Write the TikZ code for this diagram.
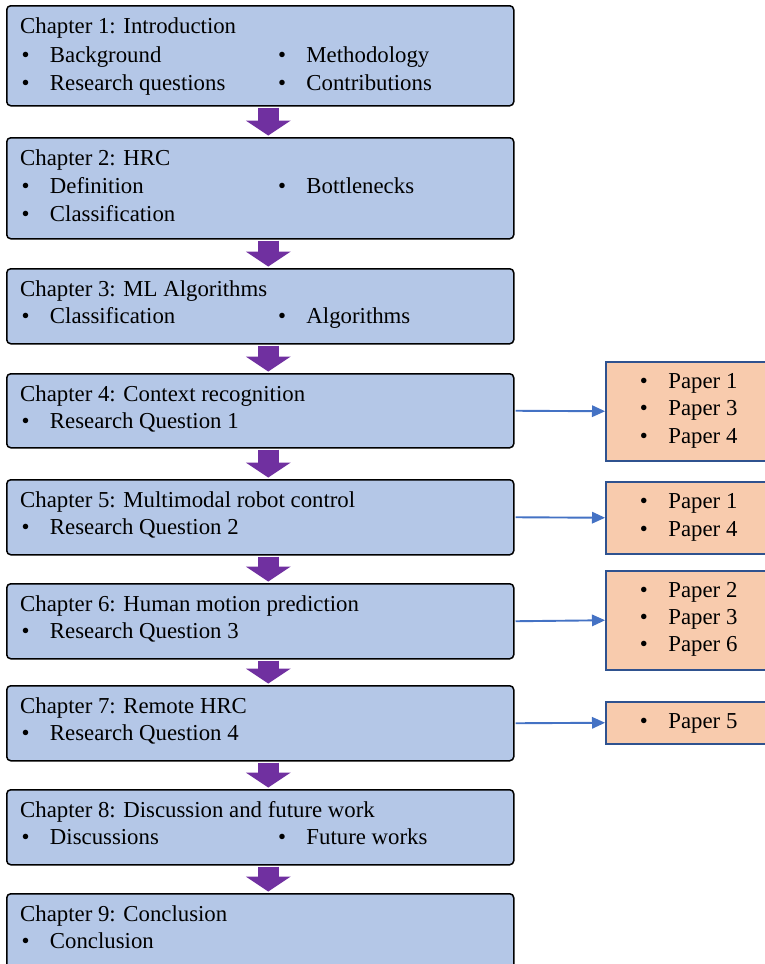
\documentclass[tikz,border=0pt]{standalone}
\usepackage{fontspec}
\setmainfont{Liberation Serif}
\usetikzlibrary{arrows.meta}

\definecolor{chapfill}{HTML}{B4C7E7}
\definecolor{paperfill}{HTML}{F8CBAD}
\definecolor{paperline}{HTML}{2F528F}
\definecolor{flowpurple}{HTML}{7030A0}
\definecolor{linkblue}{HTML}{4472C4}

\newcommand{\itm}[1]{\makebox[28.5pt][l]{\textbullet}#1}

\tikzset{
  chapbox/.style={draw=black,line width=1.5pt,rounded corners=4pt,fill=chapfill,
    anchor=north west,minimum width=507pt,inner sep=0pt},
  paperbox/.style={draw=paperline,line width=1.5pt,fill=paperfill,
    anchor=north west,minimum width=170pt,inner sep=0pt},
  txt/.style={anchor=base west,inner sep=0pt,font=\fontsize{22.8}{27}\selectfont},
  chaparrow/.style={draw=flowpurple,line width=21pt,shorten <=1pt,shorten >=1.5pt,
    -{Triangle[length=15pt,width=45pt,line width=0pt]}},
  paperarrow/.style={draw=linkblue,line width=1.9pt,shorten <=1pt,
    -{Triangle[length=13pt,width=12pt,line width=0pt]}}
}

\begin{document}
\begin{tikzpicture}[x=1pt,y=-1pt]
  \path[use as bounding box] (0,0) rectangle (765,964);
  \clip (0,0) rectangle (765,964);

  % chapter boxes
  \node[chapbox,minimum height=100pt] (ch1) at (6,5) {};
  \node[chapbox,minimum height=101pt] (ch2) at (6,137) {};
  \node[chapbox,minimum height=75pt] (ch3) at (6,268) {};
  \node[chapbox,minimum height=74pt] (ch4) at (6,373) {};
  \node[chapbox,minimum height=75pt] (ch5) at (6,479) {};
  \node[chapbox,minimum height=75pt] (ch6) at (6,583) {};
  \node[chapbox,minimum height=75pt] (ch7) at (6,685) {};
  \node[chapbox,minimum height=75pt] (ch8) at (6,789) {};
  \node[chapbox,minimum height=75pt] (ch9) at (6,893) {};

  % paper boxes
  \node[paperbox,minimum height=99pt] (p4) at (605,361) {};
  \node[paperbox,minimum height=72pt] (p5) at (605,481) {};
  \node[paperbox,minimum height=99pt] (p6) at (605,570) {};
  \node[paperbox,minimum height=42pt] (p7) at (605,701) {};

  % flow between chapters
  \draw[chaparrow] ([xshift=8pt]ch1.south) -- ([xshift=8pt]ch2.north);
  \draw[chaparrow] ([xshift=8pt]ch2.south) -- ([xshift=8pt]ch3.north);
  \draw[chaparrow] ([xshift=8pt]ch3.south) -- ([xshift=8pt]ch4.north);
  \draw[chaparrow] ([xshift=8pt]ch4.south) -- ([xshift=8pt]ch5.north);
  \draw[chaparrow] ([xshift=8pt]ch5.south) -- ([xshift=8pt]ch6.north);
  \draw[chaparrow] ([xshift=8pt]ch6.south) -- ([xshift=8pt]ch7.north);
  \draw[chaparrow] ([xshift=8pt]ch7.south) -- ([xshift=8pt]ch8.north);
  \draw[chaparrow] ([xshift=8pt]ch8.south) -- ([xshift=8pt]ch9.north);

  % links to papers
  \draw[paperarrow] (ch4.east) -- (p4.west);
  \draw[paperarrow] (ch5.east) -- (p5.west);
  \draw[paperarrow] (ch6.east) -- (p6.west);
  \draw[paperarrow] (ch7.east) -- (p7.west);

  % chapter texts
  \node[txt] (t1) at (20,33) {Chapter 1: Introduction};
  \node[txt] (t1a) at (21.3,62) {\itm{Background}};
  \node[txt] (t1b) at (277.8,62) {\itm{Methodology}};
  \node[txt] (t1c) at (21.3,90) {\itm{Research questions}};
  \node[txt] (t1d) at (277.8,90) {\itm{Contributions}};

  \node[txt] (t2) at (20,165) {Chapter 2: HRC};
  \node[txt] (t2a) at (21.3,193) {\itm{Definition}};
  \node[txt] (t2b) at (277.8,193) {\itm{Bottlenecks}};
  \node[txt] (t2c) at (21.3,221) {\itm{Classification}};

  \node[txt] (t3) at (20,296) {Chapter 3: ML Algorithms};
  \node[txt] (t3a) at (21.3,323) {\itm{Classification}};
  \node[txt] (t3b) at (277.8,323) {\itm{Algorithms}};

  \node[txt] (t4) at (20,401) {Chapter 4: Context recognition};
  \node[txt] (t4a) at (21.3,428.5) {\itm{Research Question 1}};

  \node[txt] (t5) at (20,507) {Chapter 5: Multimodal robot control};
  \node[txt] (t5a) at (21.3,534.5) {\itm{Research Question 2}};

  \node[txt] (t6) at (20,611) {Chapter 6: Human motion prediction};
  \node[txt] (t6a) at (21.3,638.5) {\itm{Research Question 3}};

  \node[txt] (t7) at (20,713) {Chapter 7: Remote HRC};
  \node[txt] (t7a) at (21.3,740.5) {\itm{Research Question 4}};

  \node[txt] (t8) at (20,817) {Chapter 8: Discussion and future work};
  \node[txt] (t8a) at (21.3,844.5) {\itm{Discussions}};
  \node[txt] (t8b) at (277.8,844.5) {\itm{Future works}};

  \node[txt] (t9) at (20,921) {Chapter 9: Conclusion};
  \node[txt] (t9a) at (21.3,948.5) {\itm{Conclusion}};

  % paper texts
  \node[txt] (q4a) at (639.7,388.3) {\itm{Paper 1}};
  \node[txt] (q4b) at (639.7,415.7) {\itm{Paper 3}};
  \node[txt] (q4c) at (639.7,443) {\itm{Paper 4}};

  \node[txt] (q5a) at (639.7,508.5) {\itm{Paper 1}};
  \node[txt] (q5b) at (639.7,536) {\itm{Paper 4}};

  \node[txt] (q6a) at (639.7,597.5) {\itm{Paper 2}};
  \node[txt] (q6b) at (639.7,624.5) {\itm{Paper 3}};
  \node[txt] (q6c) at (639.7,651.7) {\itm{Paper 6}};

  \node[txt] (q7a) at (639.7,728.5) {\itm{Paper 5}};
\end{tikzpicture}
\end{document}
